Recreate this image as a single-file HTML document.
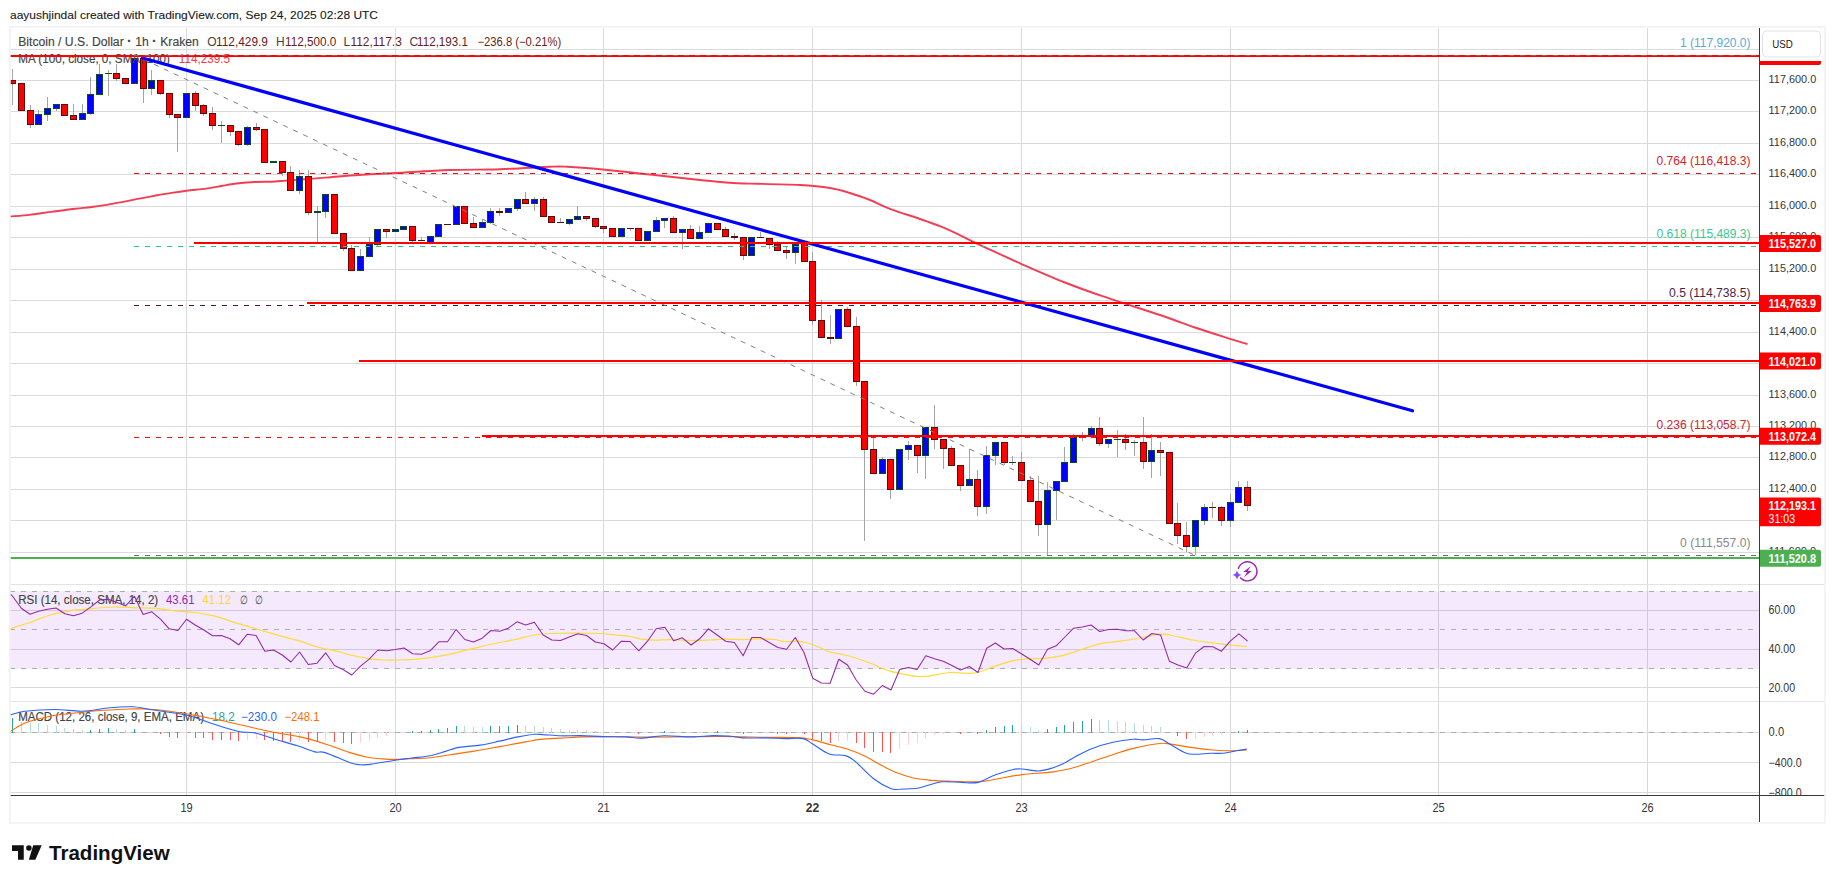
<!DOCTYPE html>
<html lang="en"><head><meta charset="utf-8"><title>BTCUSD chart</title>
<style>html,body{margin:0;padding:0;background:#fff}body{width:1835px;height:883px;overflow:hidden}svg{display:block}</style>
</head><body>
<svg width="1835" height="883" viewBox="0 0 1835 883" font-family='"Liberation Sans", sans-serif'>
<rect width="1835" height="883" fill="#fff"/>
<text x="10.00" y="19.02" font-size="11.5" fill="#1a1a1a" textLength="368.0" lengthAdjust="spacingAndGlyphs" stroke="#1a1a1a" stroke-width="0.1">aayushjindal created with TradingView.com, Sep 24, 2025 02:28 UTC</text>
<path d="M186.5,28V795M395.5,28V795M603.5,28V795M812.5,28V795M1021.5,28V795M1230.5,28V795M1438.5,28V795M1647.5,28V795M10,49.5H1760M10,80.5H1760M10,111.5H1760M10,143.5H1760M10,174.5H1760M10,206.5H1760M10,237.5H1760M10,269.5H1760M10,300.5H1760M10,332.5H1760M10,363.5H1760M10,395.5H1760M10,426.5H1760M10,457.5H1760M10,489.5H1760M10,520.5H1760M10,552.5H1760M10,610.5H1760M10,649.5H1760M10,687.5H1760M10,732.5H1760M10,762.5H1760M10,792.5H1760" stroke="#dadada" stroke-width="1" fill="none" shape-rendering="crispEdges"/>
<rect x="10" y="591" width="1750" height="78" fill="#9b23eb" fill-opacity="0.1"/>
<path d="M10,584.5H1825M10,701.5H1825" stroke="#e0e3eb" stroke-width="1" shape-rendering="crispEdges"/>
<path d="M10,591.5H1760M10,629.5H1760M10,668.5H1760M10,732.5H1760" stroke="#adadad" stroke-width="1" stroke-dasharray="5 6" fill="none" shape-rendering="crispEdges"/>
<text x="18.20" y="604.30" font-size="12" fill="#434343" textLength="140.0" lengthAdjust="spacingAndGlyphs" stroke="#434343" stroke-width="0.15">RSI (14, close, SMA, 14, 2)</text>
<text x="166.00" y="604.30" font-size="12" fill="#9228a8" textLength="28.5" lengthAdjust="spacingAndGlyphs">43.61</text>
<text x="202.50" y="604.30" font-size="12" fill="#fcd932" textLength="28.5" lengthAdjust="spacingAndGlyphs">41.12</text>
<text x="240.00" y="604.30" font-size="12" fill="#434343" textLength="7.5" lengthAdjust="spacingAndGlyphs">∅</text>
<text x="255.00" y="604.30" font-size="12" fill="#434343" textLength="7.5" lengthAdjust="spacingAndGlyphs">∅</text>
<text x="18.20" y="721.30" font-size="12" fill="#434343" textLength="185.8" lengthAdjust="spacingAndGlyphs" stroke="#434343" stroke-width="0.15">MACD (12, 26, close, 9, EMA, EMA)</text>
<text x="212.00" y="721.30" font-size="12" fill="#26a69a" textLength="22.8" lengthAdjust="spacingAndGlyphs">18.2</text>
<text x="241.00" y="721.30" font-size="12" fill="#2962ff" textLength="36.0" lengthAdjust="spacingAndGlyphs">−230.0</text>
<text x="284.50" y="721.30" font-size="12" fill="#ff6d00" textLength="35.0" lengthAdjust="spacingAndGlyphs">−248.1</text>
<clipPath id="cm"><rect x="10" y="28" width="1750" height="556"/></clipPath>
<clipPath id="cr"><rect x="10" y="585" width="1750" height="116"/></clipPath>
<clipPath id="cd"><rect x="10" y="702" width="1750" height="93"/></clipPath>
<g clip-path="url(#cm)">
<path d="M10.0,216.5C13.3,216.2 22.8,215.7 29.6,214.9C36.4,214.1 43.3,212.9 50.9,211.9C58.5,210.9 68.6,209.5 75.4,208.7C82.2,207.9 86.3,207.7 91.7,207.0C97.1,206.3 102.5,205.5 108.0,204.6C113.5,203.7 118.9,202.6 124.4,201.6C129.9,200.6 135.4,199.4 140.8,198.4C146.2,197.4 151.7,196.3 157.1,195.3C162.5,194.3 168.6,193.4 173.5,192.6C178.4,191.8 181.2,191.4 186.6,190.7C192.0,190.0 200.2,189.4 206.2,188.6C212.2,187.8 217.1,186.7 222.5,185.8C227.9,184.9 233.5,183.9 238.9,183.3C244.3,182.7 249.8,182.3 255.2,182.0C260.6,181.7 266.4,181.9 271.6,181.7C276.8,181.5 281.6,180.9 286.3,180.6C291.0,180.2 293.6,180.1 300.0,179.6C306.4,179.1 316.7,178.3 325.0,177.6C333.3,176.9 338.3,176.3 350.0,175.5C361.7,174.7 378.3,173.9 395.0,173.0C411.7,172.1 432.5,170.6 450.0,170.0C467.5,169.4 483.3,169.8 500.0,169.2C516.7,168.7 538.8,167.2 550.0,166.8C561.2,166.3 558.7,166.3 567.5,166.8C576.3,167.2 589.2,168.2 603.0,169.5C616.8,170.8 633.8,172.8 650.0,174.5C666.2,176.2 685.4,178.5 700.0,180.0C714.6,181.5 727.8,182.6 737.5,183.2C747.2,183.9 748.1,183.5 758.5,183.8C768.9,184.0 788.1,184.3 800.0,185.0C811.9,185.7 821.7,186.7 830.0,188.0C838.3,189.3 843.3,191.0 850.0,193.0C856.7,195.0 863.3,197.4 870.0,200.0C876.7,202.6 878.3,204.4 890.0,208.8C901.7,213.1 925.4,220.4 940.0,226.2C954.6,232.1 964.0,237.5 977.5,243.8C991.0,250.0 1006.4,257.3 1021.0,263.8C1035.6,270.2 1051.4,277.1 1065.0,282.5C1078.6,287.9 1086.7,290.8 1102.5,296.2C1118.3,301.7 1144.6,309.8 1160.0,315.0C1175.4,320.2 1183.3,323.5 1195.0,327.5C1206.7,331.5 1221.2,336.0 1230.0,338.8C1238.8,341.5 1244.6,343.3 1247.5,344.2" stroke="#f23d55" stroke-width="1.9" fill="none" stroke-linejoin="round"/>
<path d="M12.5,69V105M21.5,83V110M30.5,105V128M38.5,110V124M47.5,97V121M56.5,104V111M64.5,104V115M73.5,104V120M82.5,104V120M90.5,77V115M99.5,64V94M108.5,70V96M116.5,64V81M125.5,78V84M134.5,56V83M143.5,56V103M151.5,70V95M160.5,80V95M169.5,93V118M177.5,114V152M186.5,93V117M195.5,91V111M203.5,104V116M212.5,107V130M221.5,121V143M230.5,125V136M238.5,131V146M247.5,126V146M256.5,123V131M264.5,129V162M273.5,161V162M282.5,161V176M290.5,166V190M299.5,170V194M308.5,170V215M317.5,206V243M325.5,194V218M334.5,194V233M343.5,233V251M351.5,245V270M360.5,249V270M369.5,237V256M377.5,229V246M386.5,229V238M395.5,229V231M403.5,226V229M412.5,226V242M421.5,237V241M430.5,236V242M438.5,224V236M447.5,224V225M456.5,206V224M464.5,206V223M473.5,217V227M482.5,219V227M490.5,208V224M499.5,208V216M508.5,208V212M517.5,199V211M525.5,192V203M534.5,197V211M543.5,197V216M551.5,216V222M560.5,218V223M569.5,219V225M577.5,206V219M586.5,216V221M595.5,218V228M603.5,226V233M612.5,228V236M621.5,228V237M630.5,228V231M638.5,228V240M647.5,231V240M656.5,217V231M664.5,218V228M673.5,216V232M682.5,229V249M690.5,225V239M699.5,226V238M708.5,223V232M717.5,223V229M725.5,227V236M734.5,233V240M743.5,237V260M751.5,237V255M760.5,232V238M769.5,238V249M777.5,241V250M786.5,246V259M795.5,244V264M804.5,243V261M812.5,252V325M821.5,300V337M830.5,315V344M838.5,309V338M847.5,307V326M856.5,317V386M864.5,381V541M873.5,437V473M882.5,457V473M890.5,459V499M899.5,449V489M908.5,441V460M917.5,445V473M925.5,427V479M934.5,405V449M943.5,439V469M951.5,446V465M960.5,465V491M969.5,449V485M977.5,470V516M986.5,446V514M995.5,442V465M1004.5,442V465M1012.5,456V465M1021.5,452V480M1030.5,476V501M1038.5,476V536M1047.5,482V555M1056.5,481V520M1064.5,447V481M1073.5,434V462M1082.5,432V441M1091.5,426V435M1099.5,417V446M1108.5,439V448M1117.5,430V457M1125.5,434V450M1134.5,440V456M1143.5,417V469M1151.5,434V478M1160.5,442V476M1169.5,452V523M1177.5,503V544M1186.5,522V552M1195.5,520V555M1204.5,504V525M1212.5,502V518M1221.5,506V526M1230.5,494V527M1238.5,481V502M1247.5,481V511" stroke="#a4a4a4" stroke-width="1" fill="none" shape-rendering="crispEdges"/>
<path d="M9.5,80.5h6v3h-6zM18.5,83.5h6v27h-6zM27.5,110.5h6v14h-6zM61.5,104.5h6v11h-6zM70.5,115.5h6v4h-6zM113.5,73.5h6v5h-6zM122.5,78.5h6v5h-6zM140.5,58.5h6v30h-6zM157.5,80.5h6v13h-6zM166.5,93.5h6v21h-6zM174.5,114.5h6v3h-6zM192.5,93.5h6v12h-6zM200.5,105.5h6v8h-6zM209.5,113.5h6v12h-6zM227.5,125.5h6v6h-6zM235.5,131.5h6v13h-6zM253.5,127.5h6v2h-6zM261.5,129.5h6v33h-6zM279.5,161.5h6v11h-6zM287.5,172.5h6v18h-6zM305.5,176.5h6v36h-6zM331.5,194.5h6v39h-6zM340.5,233.5h6v15h-6zM348.5,248.5h6v22h-6zM383.5,229.5h6v2h-6zM409.5,226.5h6v14h-6zM461.5,206.5h6v17h-6zM470.5,223.5h6v4h-6zM496.5,211.5h6v1h-6zM522.5,199.5h6v4h-6zM540.5,199.5h6v17h-6zM548.5,216.5h6v6h-6zM583.5,216.5h6v2h-6zM592.5,218.5h6v8h-6zM600.5,226.5h6v2h-6zM609.5,228.5h6v8h-6zM635.5,228.5h6v12h-6zM670.5,218.5h6v14h-6zM687.5,229.5h6v9h-6zM714.5,223.5h6v6h-6zM722.5,229.5h6v7h-6zM731.5,236.5h6v1h-6zM740.5,237.5h6v18h-6zM766.5,238.5h6v6h-6zM774.5,244.5h6v6h-6zM783.5,250.5h6v2h-6zM801.5,243.5h6v18h-6zM809.5,261.5h6v59h-6zM818.5,320.5h6v17h-6zM827.5,337.5h6v1h-6zM844.5,309.5h6v17h-6zM853.5,326.5h6v55h-6zM861.5,381.5h6v68h-6zM870.5,449.5h6v24h-6zM887.5,459.5h6v30h-6zM914.5,445.5h6v10h-6zM931.5,427.5h6v12h-6zM940.5,439.5h6v9h-6zM948.5,448.5h6v17h-6zM957.5,465.5h6v20h-6zM974.5,479.5h6v27h-6zM1001.5,442.5h6v20h-6zM1018.5,462.5h6v18h-6zM1027.5,480.5h6v21h-6zM1035.5,501.5h6v23h-6zM1096.5,428.5h6v15h-6zM1122.5,439.5h6v3h-6zM1140.5,442.5h6v19h-6zM1157.5,450.5h6v2h-6zM1166.5,452.5h6v71h-6zM1174.5,523.5h6v12h-6zM1183.5,535.5h6v11h-6zM1218.5,507.5h6v13h-6zM1244.5,487.5h6v18h-6z" stroke="#5a0d0d" stroke-width="1" fill="#ff0000" shape-rendering="crispEdges"/>
<path d="M35.5,114.5h6v10h-6zM44.5,108.5h6v6h-6zM53.5,104.5h6v4h-6zM79.5,113.5h6v6h-6zM87.5,94.5h6v19h-6zM96.5,74.5h6v20h-6zM131.5,58.5h6v25h-6zM148.5,80.5h6v8h-6zM183.5,93.5h6v24h-6zM244.5,127.5h6v17h-6zM270.5,161.5h6v1h-6zM296.5,176.5h6v14h-6zM314.5,211.5h6v1h-6zM322.5,194.5h6v17h-6zM357.5,256.5h6v14h-6zM366.5,244.5h6v12h-6zM374.5,229.5h6v15h-6zM392.5,229.5h6v2h-6zM400.5,226.5h6v3h-6zM427.5,236.5h6v6h-6zM435.5,224.5h6v12h-6zM453.5,206.5h6v18h-6zM479.5,222.5h6v5h-6zM487.5,211.5h6v11h-6zM505.5,208.5h6v4h-6zM514.5,199.5h6v9h-6zM531.5,199.5h6v4h-6zM566.5,219.5h6v4h-6zM574.5,216.5h6v3h-6zM618.5,228.5h6v8h-6zM644.5,231.5h6v9h-6zM653.5,220.5h6v11h-6zM661.5,218.5h6v2h-6zM679.5,229.5h6v3h-6zM696.5,232.5h6v6h-6zM705.5,223.5h6v9h-6zM748.5,237.5h6v18h-6zM792.5,244.5h6v8h-6zM835.5,309.5h6v29h-6zM879.5,459.5h6v14h-6zM896.5,449.5h6v40h-6zM905.5,445.5h6v4h-6zM922.5,427.5h6v28h-6zM966.5,479.5h6v6h-6zM983.5,455.5h6v51h-6zM992.5,442.5h6v13h-6zM1044.5,490.5h6v34h-6zM1053.5,481.5h6v9h-6zM1061.5,462.5h6v19h-6zM1070.5,437.5h6v25h-6zM1088.5,428.5h6v7h-6zM1105.5,439.5h6v4h-6zM1148.5,450.5h6v11h-6zM1192.5,520.5h6v26h-6zM1201.5,507.5h6v13h-6zM1227.5,502.5h6v18h-6zM1235.5,487.5h6v15h-6z" stroke="#0d4a1f" stroke-width="1" fill="#0000ff" shape-rendering="crispEdges"/>
<path d="M105,73.5h7M218,125.5h7M1009,462.5h7M1079,437.5h7M1114,439.5h7M1131,442.5h7" stroke="#0d4a1f" stroke-width="1" fill="none" shape-rendering="crispEdges"/>
<path d="M418,240.5h7M444,224.5h7M557,222.5h7M627,228.5h7M757,237.5h7M1209,507.5h7" stroke="#5a0d0d" stroke-width="1" fill="none" shape-rendering="crispEdges"/>
<text x="18.20" y="46.00" font-size="12" fill="#434343" textLength="180.6" lengthAdjust="spacingAndGlyphs" stroke="#434343" stroke-width="0.15">Bitcoin / U.S. Dollar <tspan font-weight="bold" font-size="14">·</tspan> 1h <tspan font-weight="bold" font-size="14">·</tspan> Kraken</text>
<text x="207.30" y="46.00" font-size="12" fill="#434343">O</text>
<text x="216.00" y="46.00" font-size="12" fill="#651d1d" textLength="51.9" lengthAdjust="spacingAndGlyphs">112,429.9</text>
<text x="275.90" y="46.00" font-size="12" fill="#434343">H</text>
<text x="285.00" y="46.00" font-size="12" fill="#651d1d" textLength="51.3" lengthAdjust="spacingAndGlyphs">112,500.0</text>
<text x="343.60" y="46.00" font-size="12" fill="#434343">L</text>
<text x="350.40" y="46.00" font-size="12" fill="#651d1d" textLength="51.4" lengthAdjust="spacingAndGlyphs">112,117.3</text>
<text x="409.40" y="46.00" font-size="12" fill="#434343">C</text>
<text x="417.10" y="46.00" font-size="12" fill="#651d1d" textLength="50.9" lengthAdjust="spacingAndGlyphs">112,193.1</text>
<text x="477.40" y="46.00" font-size="12" fill="#651d1d" textLength="83.9" lengthAdjust="spacingAndGlyphs">−236.8 (−0.21%)</text>
<text x="18.20" y="62.80" font-size="12" fill="#434343" textLength="151.8" lengthAdjust="spacingAndGlyphs" stroke="#434343" stroke-width="0.15">MA (100, close, 0, SMA, 100)</text>
<text x="178.75" y="62.80" font-size="12" fill="#f23645" textLength="51.3" lengthAdjust="spacingAndGlyphs">114,239.5</text>
<path d="M133.75,173.5H1760" stroke="#f21010" stroke-width="1" stroke-dasharray="5 6" fill="none" shape-rendering="crispEdges"/>
<path d="M133.75,246.5H1760" stroke="#23c88c" stroke-width="1" stroke-dasharray="5 6" fill="none" shape-rendering="crispEdges"/>
<path d="M133.75,305.5H1760" stroke="#4a1540" stroke-width="1" stroke-dasharray="5 6" fill="none" shape-rendering="crispEdges"/>
<path d="M133.75,437.5H1760" stroke="#f21010" stroke-width="1" stroke-dasharray="5 6" fill="none" shape-rendering="crispEdges"/>
<path d="M133.75,555.5H1760" stroke="#707070" stroke-width="1" stroke-dasharray="5 6" fill="none" shape-rendering="crispEdges"/>
<text x="1750.50" y="47.30" font-size="12" fill="#5aa9d6" text-anchor="end" textLength="70.5" lengthAdjust="spacingAndGlyphs">1 (117,920.0)</text>
<text x="1750.50" y="165.00" font-size="12" fill="#d0242e" text-anchor="end" textLength="94.0" lengthAdjust="spacingAndGlyphs">0.764 (116,418.3)</text>
<text x="1750.50" y="238.10" font-size="12" fill="#3cc795" text-anchor="end" textLength="94.0" lengthAdjust="spacingAndGlyphs">0.618 (115,489.3)</text>
<text x="1750.50" y="297.20" font-size="12" fill="#4a1f45" text-anchor="end" textLength="81.5" lengthAdjust="spacingAndGlyphs">0.5 (114,738.5)</text>
<text x="1750.50" y="429.00" font-size="12" fill="#d0242e" text-anchor="end" textLength="94.0" lengthAdjust="spacingAndGlyphs">0.236 (113,058.7)</text>
<text x="1750.50" y="547.20" font-size="12" fill="#8a8a8a" text-anchor="end" textLength="70.5" lengthAdjust="spacingAndGlyphs">0 (111,557.0)</text>
<path d="M134,54.8L1195.5,555.6" stroke="#808080" stroke-width="1" stroke-dasharray="5 6" fill="none"/>
<path d="M142.5,58L1412.5,410.75" stroke="#0000ff" stroke-width="3.2" stroke-linecap="round" fill="none"/>
<rect x="10" y="55" width="1750" height="2" fill="#ff0000"/>
<path d="M133.75,55.5H1760" stroke="#5aa9d6" stroke-opacity="0.45" stroke-dasharray="5 6" shape-rendering="crispEdges"/>
<rect x="194" y="242" width="1566" height="2" fill="#ff0000"/>
<rect x="307" y="302" width="1453" height="2" fill="#ff0000"/>
<rect x="359" y="360" width="1401" height="2" fill="#ff0000"/>
<rect x="482" y="435" width="1278" height="2" fill="#ff0000"/>
<rect x="10" y="557" width="1750" height="2" fill="#4caf50"/>
<g fill="none" stroke="#9c27b0" stroke-width="1.45"><path d="M1238.3,568.9A9.5,9.5 0 1 1 1240.2,577.5"/></g>
<path d="M1250.9,565.9L1243.2,571.9L1247.2,572L1244,577.2L1251.8,570.9L1247.8,570.8Z" fill="#9c27b0"/>
<path d="M1237,570.2Q1237.6,574.4 1241.8,575Q1237.6,575.6 1237,579.8Q1236.4,575.6 1232.2,575Q1236.4,574.4 1237,570.2Z" fill="#7c4dff"/>
</g>
<g clip-path="url(#cr)">
<path d="M10.0,628.8C13.3,627.7 23.3,624.8 30.0,622.5C36.7,620.2 43.3,617.0 50.0,615.0C56.7,613.0 63.3,611.8 70.0,610.8C76.7,609.7 82.5,609.4 90.0,608.8C97.5,608.1 107.5,607.2 115.0,607.0C122.5,606.8 128.3,607.5 135.0,607.8C141.7,608.0 148.3,607.7 155.0,608.2C161.7,608.8 168.3,610.3 175.0,611.0C181.7,611.7 188.3,611.6 195.0,612.5C201.7,613.4 207.5,614.3 215.0,616.2C222.5,618.2 232.5,622.0 240.0,624.2C247.5,626.5 253.3,628.1 260.0,630.0C266.7,631.9 273.3,633.9 280.0,635.8C286.7,637.6 293.8,639.4 300.0,641.2C306.2,643.1 311.7,645.4 317.5,647.0C323.3,648.6 329.2,649.3 335.0,650.8C340.8,652.2 346.7,654.2 352.5,655.5C358.3,656.8 364.6,658.0 370.0,658.8C375.4,659.5 380.0,659.8 385.0,660.0C390.0,660.2 394.2,660.2 400.0,660.0C405.8,659.8 413.3,659.4 420.0,658.8C426.7,658.1 431.7,657.8 440.0,656.2C448.3,654.7 461.7,651.2 470.0,649.2C478.3,647.3 482.5,646.1 490.0,644.5C497.5,642.9 507.5,641.1 515.0,639.5C522.5,637.9 529.2,636.0 535.0,635.0C540.8,634.0 543.3,633.8 550.0,633.5C556.7,633.2 566.7,633.0 575.0,633.0C583.3,633.0 593.3,633.2 600.0,633.5C606.7,633.8 610.0,634.5 615.0,635.0C620.0,635.5 625.8,635.9 630.0,636.5C634.2,637.1 635.8,638.1 640.0,638.8C644.2,639.4 650.0,640.1 655.0,640.2C660.0,640.4 664.2,639.5 670.0,639.5C675.8,639.5 683.3,640.4 690.0,640.5C696.7,640.6 704.2,640.2 710.0,640.0C715.8,639.8 719.2,639.3 725.0,639.2C730.8,639.2 739.2,639.6 745.0,639.5C750.8,639.4 755.0,638.8 760.0,638.8C765.0,638.8 770.8,639.0 775.0,639.5C779.2,640.0 781.2,641.2 785.0,641.5C788.8,641.8 793.8,641.0 797.5,641.2C801.2,641.5 803.8,642.0 807.5,643.0C811.2,644.0 816.2,646.0 820.0,647.5C823.8,649.0 825.8,650.8 830.0,652.0C834.2,653.2 840.0,653.8 845.0,655.0C850.0,656.2 855.0,657.8 860.0,659.5C865.0,661.2 871.7,663.7 875.0,665.0C878.3,666.3 877.5,666.5 880.0,667.5C882.5,668.5 886.2,670.2 890.0,671.2C893.8,672.3 897.9,672.9 902.5,673.8C907.1,674.6 913.3,676.1 917.5,676.5C921.7,676.9 922.1,676.9 927.5,676.2C932.9,675.6 943.8,673.0 950.0,672.5C956.2,672.0 960.4,673.2 965.0,673.2C969.6,673.2 972.5,673.7 977.5,672.5C982.5,671.3 989.2,668.2 995.0,666.2C1000.8,664.3 1006.7,662.0 1012.5,660.8C1018.3,659.5 1024.6,659.2 1030.0,658.8C1035.4,658.3 1040.0,658.7 1045.0,658.2C1050.0,657.8 1054.2,657.6 1060.0,656.2C1065.8,654.9 1073.3,652.1 1080.0,650.0C1086.7,647.9 1093.3,645.2 1100.0,643.8C1106.7,642.3 1112.9,642.3 1120.0,641.2C1127.1,640.2 1135.8,638.7 1142.5,637.5C1149.2,636.3 1155.4,634.7 1160.0,634.2C1164.6,633.8 1164.6,634.0 1170.0,635.0C1175.4,636.0 1185.0,638.6 1192.5,640.0C1200.0,641.4 1208.8,642.4 1215.0,643.2C1221.2,644.1 1224.7,644.5 1230.0,645.0C1235.3,645.5 1244.0,646.2 1246.8,646.5" stroke="#fddc3a" stroke-width="1.25" fill="none" stroke-linejoin="round"/>
<path d="M10.0,594.0 L12.6,596.2 L21.3,608.2 L30.0,614.2 L38.7,611.2 L47.4,609.2 L56.1,608.0 L64.8,613.8 L73.5,615.8 L82.2,613.2 L90.9,606.8 L99.6,600.0 L108.3,599.2 L117.0,602.5 L125.7,605.8 L134.4,596.2 L143.1,614.5 L151.8,611.8 L160.5,619.2 L169.2,628.8 L177.9,630.5 L186.5,619.2 L195.2,625.0 L203.9,630.0 L212.6,635.8 L221.3,635.5 L230.0,638.8 L238.7,644.8 L247.4,634.2 L256.1,635.5 L264.8,651.2 L273.5,650.0 L282.2,655.0 L290.9,662.0 L299.6,652.0 L308.3,664.5 L317.0,663.2 L325.7,652.8 L334.4,665.5 L343.1,669.5 L351.8,675.0 L360.5,666.2 L369.2,659.2 L377.9,650.0 L386.6,650.8 L395.3,649.5 L404.0,648.0 L412.7,653.8 L421.4,654.2 L430.1,650.8 L438.8,641.8 L447.5,641.8 L456.1,629.5 L464.8,639.5 L473.5,642.0 L482.2,638.2 L490.9,630.5 L499.6,631.2 L508.3,628.2 L517.0,621.8 L525.7,625.0 L534.4,622.2 L543.1,635.0 L551.8,640.0 L560.5,640.5 L569.2,637.0 L577.9,633.8 L586.6,635.5 L595.3,642.0 L604.0,643.8 L612.7,650.0 L621.4,641.2 L630.1,641.5 L638.8,650.8 L647.5,641.2 L656.2,628.8 L664.9,627.2 L673.6,640.8 L682.3,637.8 L691.0,645.0 L699.7,638.8 L708.4,628.8 L717.1,635.0 L725.7,641.2 L734.4,642.5 L743.1,655.8 L751.8,637.5 L760.5,637.5 L769.2,642.5 L777.9,647.5 L786.6,649.2 L795.3,637.5 L804.0,652.5 L812.7,678.2 L821.4,683.0 L830.1,683.2 L838.8,659.2 L847.5,665.0 L856.2,680.0 L864.9,691.2 L873.6,694.2 L882.3,685.5 L891.0,690.0 L899.7,669.5 L908.4,667.5 L917.1,669.5 L925.8,655.8 L934.5,658.8 L943.2,661.2 L951.9,665.5 L960.6,670.0 L969.3,666.5 L978.0,672.5 L986.7,648.2 L995.4,643.0 L1004.0,649.0 L1012.7,648.5 L1021.4,653.8 L1030.1,659.2 L1038.8,665.0 L1047.5,649.2 L1056.2,645.8 L1064.9,637.0 L1073.6,628.2 L1082.3,627.0 L1091.0,625.0 L1099.7,631.5 L1108.4,629.5 L1117.1,629.2 L1125.8,630.8 L1134.5,630.8 L1143.2,640.0 L1151.9,633.5 L1160.6,635.0 L1169.3,661.2 L1178.0,665.0 L1186.7,668.0 L1195.4,653.2 L1204.1,646.5 L1212.8,646.8 L1221.5,651.2 L1230.2,641.2 L1238.9,633.8 L1247.6,641.2" stroke="#9228a8" stroke-width="1.05" fill="none" stroke-linejoin="round"/>
</g>
<g clip-path="url(#cd)">
<path d="M12.5,718V733M90.5,730V733M99.5,729V733M108.5,728V733M134.5,729V733M412.5,731V733M421.5,731V733M430.5,730V733M438.5,729V733M447.5,728V733M456.5,726V733M490.5,726V733M499.5,726V733M508.5,726V733M517.5,725V733M664.5,731V733M717.5,731V733M986.5,730V733M995.5,727V733M1004.5,726V733M1012.5,725V733M1047.5,729V733M1056.5,727V733M1064.5,725V733M1073.5,722V733M1082.5,721V733M1091.5,719V733M1238.5,731V733M1247.5,730V733" stroke="#26a69a" stroke-width="1" fill="none" shape-rendering="crispEdges"/>
<path d="M21.5,722V733M30.5,723V733M38.5,723V733M47.5,725V733M56.5,726V733M64.5,728V733M73.5,729V733M82.5,730V733M116.5,729V733M125.5,730V733M464.5,726V733M473.5,727V733M482.5,727V733M525.5,726V733M534.5,726V733M543.5,727V733M551.5,728V733M560.5,729V733M569.5,730V733M577.5,730V733M586.5,730V733M595.5,731V733M1021.5,726V733M1030.5,727V733M1038.5,730V733M1099.5,720V733M1108.5,720V733M1117.5,721V733M1125.5,722V733M1134.5,723V733M1143.5,725V733M1151.5,726V733M1160.5,727V733" stroke="#b2dfdb" stroke-width="1" fill="none" shape-rendering="crispEdges"/>
<path d="M160.5,732V734M169.5,732V737M177.5,732V738M195.5,732V738M203.5,732V738M212.5,732V740M221.5,732V740M230.5,732V740M238.5,732V741M264.5,732V740M273.5,732V741M282.5,732V742M290.5,732V742M308.5,732V742M317.5,732V742M334.5,732V742M343.5,732V743M351.5,732V744M638.5,732V734M743.5,732V734M777.5,732V734M786.5,732V734M804.5,732V734M812.5,732V739M821.5,732V741M830.5,732V743M856.5,732V743M864.5,732V748M873.5,732V752M882.5,732V752M890.5,732V753M960.5,732V734M977.5,732V734M1177.5,732V736M1186.5,732V739" stroke="#ff5252" stroke-width="1" fill="none" shape-rendering="crispEdges"/>
<path d="M186.5,732V738M247.5,732V740M256.5,732V739M299.5,732V741M325.5,732V741M360.5,732V742M369.5,732V741M377.5,732V738M386.5,732V736M838.5,732V741M847.5,732V741M899.5,732V749M908.5,732V745M917.5,732V743M925.5,732V738M934.5,732V735M943.5,732V734M1195.5,732V739M1204.5,732V737M1212.5,732V736M1221.5,732V735" stroke="#ffcdd2" stroke-width="1" fill="none" shape-rendering="crispEdges"/>
<path d="M10.0,731.8C12.5,730.3 18.3,725.6 25.0,723.0C31.7,720.4 41.7,717.9 50.0,716.2C58.3,714.6 66.7,714.0 75.0,713.0C83.3,712.0 91.7,711.1 100.0,710.5C108.3,709.9 117.5,709.5 125.0,709.2C132.5,709.0 137.5,708.7 145.0,709.0C152.5,709.3 160.8,710.0 170.0,711.2C179.2,712.5 190.8,714.6 200.0,716.2C209.2,717.9 216.7,719.5 225.0,721.2C233.3,723.0 241.7,725.1 250.0,727.0C258.3,728.9 266.7,730.9 275.0,732.5C283.3,734.1 291.7,735.0 300.0,736.9C308.3,738.7 316.7,741.2 325.1,743.9C333.4,746.5 343.0,750.4 350.1,752.6C357.2,754.9 362.3,756.1 367.7,757.2C373.1,758.2 378.1,758.5 382.7,758.9C387.3,759.3 390.7,759.5 395.3,759.4C399.9,759.4 404.5,759.0 410.3,758.7C416.2,758.4 423.7,758.3 430.4,757.7C437.0,757.0 442.9,755.8 450.4,754.7C457.9,753.5 467.1,752.3 475.5,750.9C483.8,749.5 492.2,747.9 500.6,746.4C508.9,744.9 518.9,743.0 525.6,741.9C532.3,740.7 534.8,740.0 540.7,739.4C546.5,738.7 553.6,738.5 560.7,738.1C567.8,737.7 576.2,737.1 583.3,736.9C590.4,736.6 592.1,736.6 603.3,736.6C614.6,736.6 634.7,737.1 651.0,737.1C667.3,737.1 687.5,736.7 701.1,736.6C714.7,736.5 722.0,736.5 732.7,736.6C743.4,736.7 754.5,737.1 765.4,737.3C776.3,737.4 790.2,737.2 798.1,737.6C806.0,738.0 807.4,738.7 812.8,739.9C818.3,741.1 825.1,743.3 830.8,744.8C836.5,746.3 841.7,747.3 847.2,749.1C852.6,750.9 858.1,753.0 863.5,755.6C869.0,758.2 874.4,761.6 879.9,764.4C885.3,767.3 890.8,770.4 896.2,772.6C901.7,774.8 907.1,776.6 912.6,777.8C918.0,779.1 922.9,779.6 928.9,780.1C934.9,780.7 940.4,780.8 948.5,781.1C956.7,781.4 970.3,782.0 978.0,781.8C985.6,781.5 987.0,780.7 994.3,779.5C1001.7,778.3 1012.3,775.8 1022.1,774.6C1031.9,773.3 1044.2,773.2 1053.2,771.9C1062.2,770.7 1069.5,768.8 1076.1,767.0C1082.6,765.3 1086.4,763.5 1092.4,761.5C1098.4,759.5 1105.2,757.1 1112.0,754.9C1118.8,752.8 1125.4,750.3 1133.3,748.4C1141.2,746.5 1153.2,744.2 1159.5,743.5C1165.7,742.8 1165.7,743.5 1170.9,744.1C1176.1,744.8 1184.0,746.5 1190.5,747.4C1197.1,748.3 1204.1,749.2 1210.1,749.7C1216.1,750.3 1220.4,750.6 1226.5,750.7C1232.6,750.7 1243.4,750.1 1246.8,750.0" stroke="#ff6d00" stroke-width="1.1" fill="none" stroke-linejoin="round"/>
<path d="M10.0,715.0C12.5,714.4 17.5,712.2 25.0,711.2C32.5,710.3 45.4,709.5 55.0,709.5C64.6,709.5 73.8,711.5 82.5,711.2C91.2,711.0 99.2,708.8 107.5,708.0C115.8,707.2 125.4,706.5 132.5,706.8C139.6,707.0 141.0,708.1 150.0,709.5C159.0,710.9 175.8,712.6 186.2,715.0C196.7,717.4 204.0,721.0 212.5,723.8C221.0,726.5 230.4,729.7 237.5,731.2C244.6,732.8 248.8,731.7 255.0,733.0C261.2,734.3 267.9,737.1 275.0,739.2C282.1,741.4 290.8,743.6 297.5,745.8C304.2,747.9 310.4,750.7 315.0,751.9C319.6,753.0 319.2,750.8 325.1,752.6C330.9,754.4 344.3,760.7 350.1,762.7C356.0,764.7 356.8,764.4 360.2,764.7C363.5,765.0 364.3,765.2 370.2,764.4C376.0,763.7 388.6,761.2 395.3,760.2C401.9,759.1 404.5,758.9 410.3,758.2C416.2,757.4 424.5,756.8 430.4,755.7C436.2,754.5 441.2,752.6 445.4,751.4C449.6,750.1 452.1,748.9 455.4,748.1C458.8,747.3 461.3,747.1 465.5,746.6C469.6,746.1 474.6,746.1 480.5,745.1C486.3,744.2 494.3,742.2 500.6,740.9C506.8,739.5 512.5,737.9 518.1,736.9C523.7,735.8 530.2,734.7 534.4,734.3C538.6,734.0 538.8,734.3 543.2,734.6C547.6,734.8 554.4,735.7 560.7,735.8C567.0,736.0 573.7,735.5 580.8,735.6C587.9,735.7 595.8,736.4 603.3,736.6C610.9,736.8 619.6,736.6 625.9,736.9C632.2,737.1 634.7,738.3 640.9,738.1C647.2,737.9 655.1,736.1 663.5,735.8C671.9,735.6 682.7,736.9 691.1,736.9C699.4,736.8 707.0,735.7 713.6,735.6C720.3,735.5 726.4,736.0 731.2,736.3C736.0,736.7 736.8,737.7 742.5,737.9C748.2,738.2 758.3,737.8 765.4,737.9C772.5,738.0 778.8,738.5 785.0,738.6C791.3,738.7 798.4,737.7 803.0,738.6C807.6,739.5 808.5,741.6 812.8,744.1C817.2,746.7 823.7,752.0 829.2,754.0C834.6,755.9 841.2,754.3 845.5,755.6C849.9,756.8 850.7,757.7 855.3,761.5C860.0,765.3 867.4,774.0 873.3,778.5C879.2,783.0 886.3,786.8 890.6,788.6C895.0,790.4 895.0,789.3 899.5,789.3C903.9,789.2 912.6,789.0 917.5,788.3C922.4,787.6 924.8,786.1 928.9,785.0C933.0,783.9 936.5,782.2 942.0,781.8C947.4,781.3 955.6,782.3 961.6,782.4C967.6,782.5 972.5,783.6 978.0,782.4C983.4,781.2 988.6,777.3 994.3,775.2C1000.0,773.1 1007.7,770.7 1012.3,769.7C1016.9,768.6 1017.7,768.8 1022.1,769.0C1026.5,769.2 1033.3,771.2 1038.5,771.0C1043.6,770.7 1049.1,768.9 1053.2,767.7C1057.3,766.5 1059.2,765.7 1063.0,763.8C1066.8,761.9 1071.2,758.8 1076.1,756.2C1081.0,753.7 1086.4,750.7 1092.4,748.4C1098.4,746.1 1105.2,744.0 1112.0,742.5C1118.8,741.0 1128.1,739.7 1133.3,739.2C1138.5,738.8 1138.7,740.0 1143.1,739.9C1147.5,739.8 1154.8,737.8 1159.5,738.6C1164.1,739.4 1166.5,742.4 1170.9,744.8C1175.3,747.2 1181.5,751.4 1185.6,753.0C1189.7,754.6 1191.3,754.2 1195.4,754.3C1199.5,754.3 1205.5,753.5 1210.1,753.3C1214.8,753.1 1218.9,753.7 1223.2,753.3C1227.6,752.9 1232.4,751.4 1236.3,750.7C1240.2,750.0 1245.0,749.3 1246.8,749.1" stroke="#2962ff" stroke-width="1.1" fill="none" stroke-linejoin="round"/>
</g>
<rect x="1760" y="28" width="64" height="794" fill="#fff"/>
<path d="M1760,584.5H1825M1760,701.5H1825" stroke="#e0e3eb" stroke-width="1" shape-rendering="crispEdges"/>
<text x="1768.60" y="82.72" font-size="11.5" fill="#363636" textLength="47.6" lengthAdjust="spacingAndGlyphs">117,600.0</text>
<text x="1768.60" y="113.72" font-size="11.5" fill="#363636" textLength="47.6" lengthAdjust="spacingAndGlyphs">117,200.0</text>
<text x="1768.60" y="145.72" font-size="11.5" fill="#363636" textLength="47.6" lengthAdjust="spacingAndGlyphs">116,800.0</text>
<text x="1768.60" y="176.72" font-size="11.5" fill="#363636" textLength="47.6" lengthAdjust="spacingAndGlyphs">116,400.0</text>
<text x="1768.60" y="208.72" font-size="11.5" fill="#363636" textLength="47.6" lengthAdjust="spacingAndGlyphs">116,000.0</text>
<text x="1768.60" y="239.72" font-size="11.5" fill="#363636" textLength="47.6" lengthAdjust="spacingAndGlyphs">115,600.0</text>
<text x="1768.60" y="271.72" font-size="11.5" fill="#363636" textLength="47.6" lengthAdjust="spacingAndGlyphs">115,200.0</text>
<text x="1768.60" y="302.72" font-size="11.5" fill="#363636" textLength="47.6" lengthAdjust="spacingAndGlyphs">114,800.0</text>
<text x="1768.60" y="334.72" font-size="11.5" fill="#363636" textLength="47.6" lengthAdjust="spacingAndGlyphs">114,400.0</text>
<text x="1768.60" y="365.72" font-size="11.5" fill="#363636" textLength="47.6" lengthAdjust="spacingAndGlyphs">114,000.0</text>
<text x="1768.60" y="397.72" font-size="11.5" fill="#363636" textLength="47.6" lengthAdjust="spacingAndGlyphs">113,600.0</text>
<text x="1768.60" y="428.72" font-size="11.5" fill="#363636" textLength="47.6" lengthAdjust="spacingAndGlyphs">113,200.0</text>
<text x="1768.60" y="459.72" font-size="11.5" fill="#363636" textLength="47.6" lengthAdjust="spacingAndGlyphs">112,800.0</text>
<text x="1768.60" y="491.72" font-size="11.5" fill="#363636" textLength="47.6" lengthAdjust="spacingAndGlyphs">112,400.0</text>
<text x="1768.60" y="522.72" font-size="11.5" fill="#363636" textLength="47.6" lengthAdjust="spacingAndGlyphs">112,000.0</text>
<text x="1768.60" y="554.72" font-size="11.5" fill="#363636" textLength="47.6" lengthAdjust="spacingAndGlyphs">111,600.0</text>
<text x="1768.60" y="614.30" font-size="12" fill="#363636" textLength="26.5" lengthAdjust="spacingAndGlyphs">60.00</text>
<text x="1768.60" y="653.30" font-size="12" fill="#363636" textLength="26.5" lengthAdjust="spacingAndGlyphs">40.00</text>
<text x="1768.60" y="691.60" font-size="12" fill="#363636" textLength="26.5" lengthAdjust="spacingAndGlyphs">20.00</text>
<text x="1768.60" y="736.30" font-size="12" fill="#363636" textLength="15.5" lengthAdjust="spacingAndGlyphs">0.0</text>
<text x="1768.60" y="766.60" font-size="12" fill="#363636" textLength="33.0" lengthAdjust="spacingAndGlyphs">−400.0</text>
<text x="1768.60" y="796.70" font-size="12" fill="#363636" textLength="33.0" lengthAdjust="spacingAndGlyphs">−800.0</text>
<rect x="9" y="796" width="1816" height="26" fill="#fff"/>
<path d="M10,795.5H1825M1759.5,28V822" stroke="#3a3a3a" stroke-width="1" shape-rendering="crispEdges"/>
<text x="186.50" y="812.10" font-size="12" fill="#363636" text-anchor="middle" textLength="12.2" lengthAdjust="spacingAndGlyphs">19</text>
<text x="395.50" y="812.10" font-size="12" fill="#363636" text-anchor="middle" textLength="12.2" lengthAdjust="spacingAndGlyphs">20</text>
<text x="603.50" y="812.10" font-size="12" fill="#363636" text-anchor="middle" textLength="12.2" lengthAdjust="spacingAndGlyphs">21</text>
<text x="812.50" y="812.10" font-size="12" fill="#363636" font-weight="bold" text-anchor="middle" textLength="13.5" lengthAdjust="spacingAndGlyphs">22</text>
<text x="1021.50" y="812.10" font-size="12" fill="#363636" text-anchor="middle" textLength="12.2" lengthAdjust="spacingAndGlyphs">23</text>
<text x="1230.50" y="812.10" font-size="12" fill="#363636" text-anchor="middle" textLength="12.2" lengthAdjust="spacingAndGlyphs">24</text>
<text x="1438.50" y="812.10" font-size="12" fill="#363636" text-anchor="middle" textLength="12.2" lengthAdjust="spacingAndGlyphs">25</text>
<text x="1647.50" y="812.10" font-size="12" fill="#363636" text-anchor="middle" textLength="12.2" lengthAdjust="spacingAndGlyphs">26</text>
<path d="M1760,61H1821V63a2,2 0 0 1 -2,2H1760Z" fill="#ff0000"/>
<path d="M1760,235.0H1819a2,2 0 0 1 2,2V250.0a2,2 0 0 1 -2,2H1760Z" fill="#ff0000"/>
<text x="1768.60" y="248.00" font-size="12" fill="#fff" font-weight="bold" textLength="47.4" lengthAdjust="spacingAndGlyphs">115,527.0</text>
<path d="M1760,294.9H1819a2,2 0 0 1 2,2V309.9a2,2 0 0 1 -2,2H1760Z" fill="#ff0000"/>
<text x="1768.60" y="307.90" font-size="12" fill="#fff" font-weight="bold" textLength="47.4" lengthAdjust="spacingAndGlyphs">114,763.9</text>
<path d="M1760,352.5H1819a2,2 0 0 1 2,2V367.5a2,2 0 0 1 -2,2H1760Z" fill="#ff0000"/>
<text x="1768.60" y="365.50" font-size="12" fill="#fff" font-weight="bold" textLength="47.4" lengthAdjust="spacingAndGlyphs">114,021.0</text>
<path d="M1760,427.8H1819a2,2 0 0 1 2,2V442.8a2,2 0 0 1 -2,2H1760Z" fill="#ff0000"/>
<text x="1768.60" y="440.80" font-size="12" fill="#fff" font-weight="bold" textLength="47.4" lengthAdjust="spacingAndGlyphs">113,072.4</text>
<path d="M1760,497.4H1819a2,2 0 0 1 2,2V524.3a2,2 0 0 1 -2,2H1760Z" fill="#ff0000"/>
<text x="1768.60" y="509.50" font-size="12" fill="#fff" font-weight="bold" textLength="47.4" lengthAdjust="spacingAndGlyphs">112,193.1</text>
<text x="1768.60" y="522.90" font-size="12" fill="#fff" textLength="26.5" lengthAdjust="spacingAndGlyphs">31:03</text>
<path d="M1760,549.8H1819a2,2 0 0 1 2,2V564.8a2,2 0 0 1 -2,2H1760Z" fill="#4caf50"/>
<text x="1768.60" y="562.80" font-size="12" fill="#fff" font-weight="bold" textLength="47.4" lengthAdjust="spacingAndGlyphs">111,520.8</text>
<rect x="1762.5" y="31" width="58" height="26" rx="4" fill="#fff" stroke="#e0e3eb"/>
<text x="1772.20" y="47.92" font-size="11.5" fill="#1a1a1a" textLength="20.5" lengthAdjust="spacingAndGlyphs">USD</text>
<rect x="9.9" y="26.9" width="1815.1" height="796.1" fill="none" stroke="#f2f2f2" stroke-width="1.7"/>
<g fill="#111"><path d="M12,845.25H23.75V859.65H18V851H12Z"/><circle cx="28.9" cy="848" r="2.75"/><path d="M33.2,845.25H41.7L35.4,859.65H28.9Z"/></g>
<text x="49" y="859.65" font-size="20" font-weight="bold" fill="#111" textLength="120.7" lengthAdjust="spacingAndGlyphs">TradingView</text>
</svg>
</body></html>
